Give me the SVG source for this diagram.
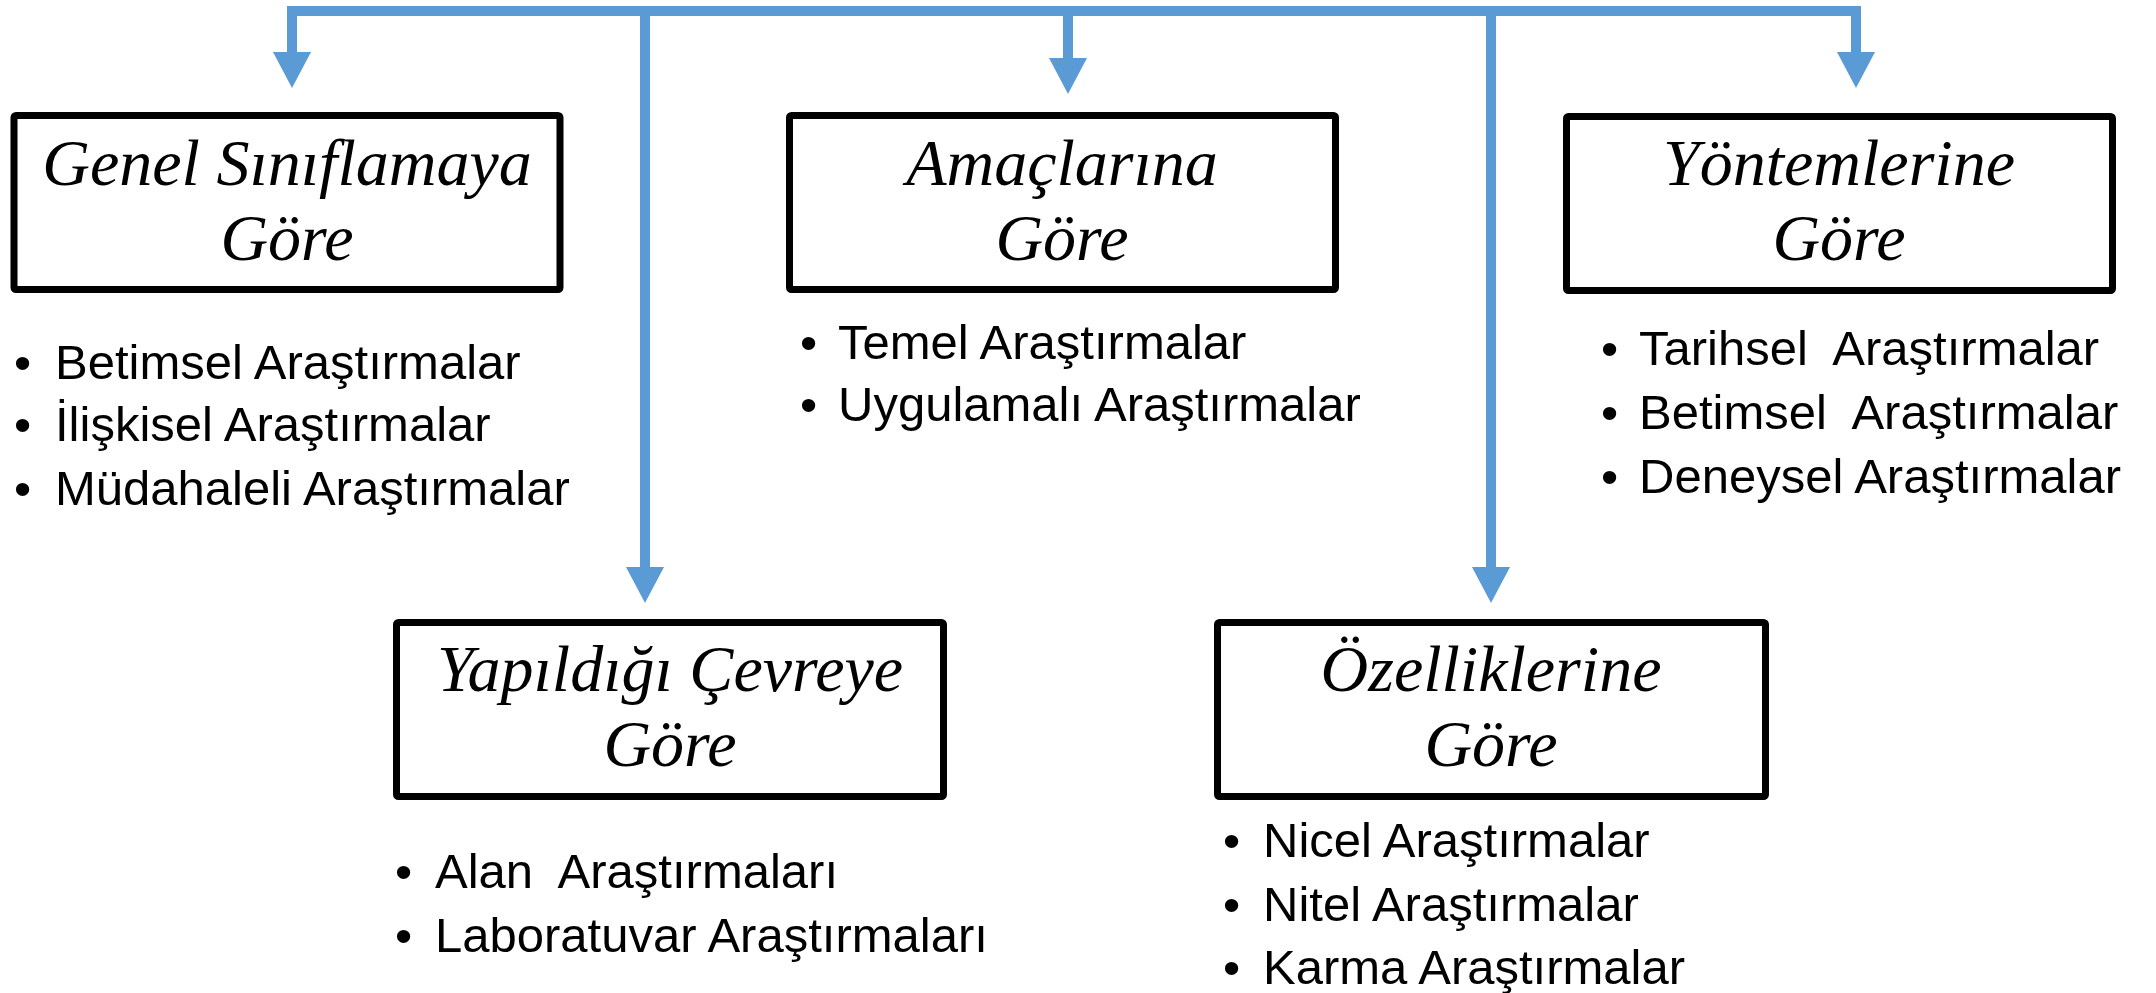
<svg xmlns="http://www.w3.org/2000/svg" width="2156" height="993" viewBox="0 0 2156 993">
<style>
.box{fill:#fff;stroke:#000;stroke-width:7}
.h{font-family:"Liberation Serif","DejaVu Serif",serif;font-style:italic;font-size:66px;fill:#000;text-anchor:middle}
.b{font-family:"Liberation Sans",Arial,sans-serif;font-size:49px;fill:#000;white-space:pre}
.c{fill:none;stroke:#5B9BD5;stroke-width:10;marker-end:url(#ah)}
</style>
<defs>
<marker id="ah" markerUnits="userSpaceOnUse" markerWidth="36" markerHeight="38" refX="0" refY="19" orient="auto-start-reverse" viewBox="0 0 36 38">
<path d="M0,0 L36,19 L0,38 Z" fill="#5B9BD5"/>
</marker>
</defs>
<rect width="2156" height="993" fill="#fff"/>
<g id="connectors">
<path class="c" style="marker-start:url(#ah)" d="M292,52 V11 H1856 V52"/>
<path class="c" d="M1068,11 V58"/>
<path class="c" d="M645,11 V567"/>
<path class="c" d="M1491,11 V567"/>
</g>
<g id="genel">
<rect class="box" x="14" y="115.5" width="546" height="174" rx="2"/>
<text class="h" x="287" y="185">Genel Sınıflamaya</text>
<text class="h" x="287" y="260">Göre</text>
<text class="b" xml:space="preserve"><tspan x="14" y="379">•</tspan><tspan x="55" y="379">Betimsel Araştırmalar</tspan><tspan x="14" y="441">•</tspan><tspan x="55" y="441">İlişkisel Araştırmalar</tspan><tspan x="14" y="505">•</tspan><tspan x="55" y="505">Müdahaleli Araştırmalar</tspan></text>
</g>
<g id="amac">
<rect class="box" x="789.5" y="115.5" width="546" height="174" rx="2"/>
<text class="h" x="1062" y="185">Amaçlarına</text>
<text class="h" x="1062" y="260">Göre</text>
<text class="b" xml:space="preserve"><tspan x="800" y="359">•</tspan><tspan x="838" y="359">Temel Araştırmalar</tspan><tspan x="800" y="421">•</tspan><tspan x="838" y="421">Uygulamalı Araştırmalar</tspan></text>
</g>
<g id="yontem">
<rect class="box" x="1566.5" y="116.5" width="546" height="174" rx="2"/>
<text class="h" x="1839" y="185">Yöntemlerine</text>
<text class="h" x="1839" y="260">Göre</text>
<text class="b" xml:space="preserve"><tspan x="1601" y="365">•</tspan><tspan x="1639" y="365">Tarihsel  Araştırmalar</tspan><tspan x="1601" y="429">•</tspan><tspan x="1639" y="429">Betimsel  Araştırmalar</tspan><tspan x="1601" y="493">•</tspan><tspan x="1639" y="493">Deneysel Araştırmalar</tspan></text>
</g>
<g id="yapildigi">
<rect class="box" x="396.5" y="622.5" width="547" height="174" rx="2"/>
<text class="h" x="670" y="691">Yapıldığı Çevreye</text>
<text class="h" x="670" y="766">Göre</text>
<text class="b" xml:space="preserve"><tspan x="395" y="888">•</tspan><tspan x="435" y="888">Alan  Araştırmaları</tspan><tspan x="395" y="952">•</tspan><tspan x="435" y="952">Laboratuvar Araştırmaları</tspan></text>
</g>
<g id="ozellik">
<rect class="box" x="1217.5" y="622.5" width="548" height="174" rx="2"/>
<text class="h" x="1491" y="691">Özelliklerine</text>
<text class="h" x="1491" y="766">Göre</text>
<text class="b" xml:space="preserve"><tspan x="1223" y="857">•</tspan><tspan x="1263" y="857">Nicel Araştırmalar</tspan><tspan x="1223" y="921">•</tspan><tspan x="1263" y="921">Nitel Araştırmalar</tspan><tspan x="1223" y="984">•</tspan><tspan x="1263" y="984">Karma Araştırmalar</tspan></text>
</g>
</svg>
